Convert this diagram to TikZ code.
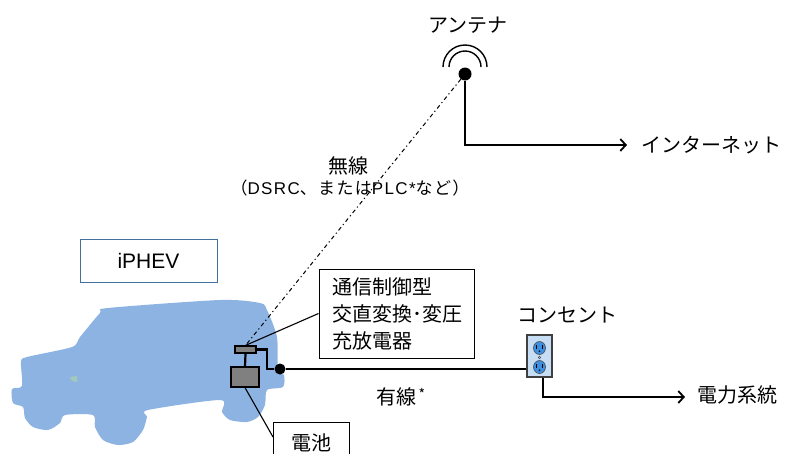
\documentclass[tikz,border=0pt]{standalone}
\usepackage{fontspec}
\setmainfont{Liberation Sans}
\newfontfamily\jp{Noto Sans CJK JP}
\usetikzlibrary{arrows.meta}

\definecolor{carblue}{HTML}{8DB3E2}
\definecolor{carspot}{HTML}{A3C9BC}
\definecolor{framblue}{HTML}{41719C}
\definecolor{unitgray}{HTML}{808080}
\definecolor{outletface}{HTML}{C6DDF3}
\definecolor{socketblue}{HTML}{3F8FE0}

\tikzset{
  wire/.style={line width=2.2pt},
  leader/.style={line width=1.1pt},
  feed/.style={line width=1.8pt, -{Straight Barb[length=5.5pt,width=12pt,line width=1.8pt]}},
  radio/.style={line width=1pt, dash pattern=on 4pt off 3pt on 1.2pt off 3pt},
  jptext/.style={font=\jp\fontsize{20}{27}\selectfont, inner sep=0pt},
  unitbox/.style={draw, line width=1.2pt, fill=unitgray, inner sep=0pt},
  labelbox/.style={draw, line width=1pt, fill=white},
}

\begin{document}
\begin{tikzpicture}[x=1pt, y=-1pt]
\useasboundingbox (0,0) rectangle (789,453);

% vehicle silhouette
\fill[carblue] plot[smooth cycle, tension=0.45] coordinates {
  (12,389) (22,386) (21,362) (27,357) (72,347) (80,337) (100,313) (108,308)
  (220,300) (260,303) (267,310) (277,337) (278,370) (284,375) (283,387)
  (267,390) (265,405) (258,417) (247,422) (230,420) (222,412) (220,400)
  (148,410) (147,417) (143,430) (133,442) (118,445) (103,440) (95,427)
  (93,415) (65,415) (60,423) (48,430) (33,427) (25,418) (23,407) (13,403)};
\fill[carspot] (70,377) -- (77,376) -- (77,382) -- (72,381) -- cycle;

% vehicle label
\node[draw=framblue, line width=1pt, fill=white, minimum width=137pt, minimum height=43pt,
      inner sep=0pt, font=\fontsize{21}{25}\selectfont] (veh) at (148.5,260.5) {iPHEV};

% antenna
\node[circle, fill=black, inner sep=0pt, minimum size=13pt] (ant) at (465,74) {};
\draw[line width=1.4pt] (481,67) arc[start angle=0, end angle=-180, radius=16];
\draw[line width=1.4pt] (487,67) arc[start angle=0, end angle=-180, radius=22];
\node[jptext] (antlbl) at (468,25) {アンテナ};
\coordinate (netbend) at (465,145);
\node[jptext, anchor=west] (net) at (641,145) {インターネット};
\draw[feed] (ant.south) -- (netbend) -- (net.west -| 627,0);

% on-board units
\node[unitbox, minimum width=21pt, minimum height=7pt] (chg) at (245.5,349.5) {};
\node[unitbox, minimum width=28pt, minimum height=20pt] (bat) at (245,377) {};
\node[circle, fill=black, inner sep=0pt, minimum size=11pt] (jn) at (280,369) {};
\draw[wire] (chg.south) -- (bat.north);
\draw[wire] (chg.east) -- ++(10,0) |- (jn);

% wireless link
\draw[radio] (ant) -- (chg.north);
\node[jptext] (wl) at (348,166) {無線};
\node[font=\fontsize{17}{20}\selectfont\addfontfeature{LetterSpace=8}, inner sep=0pt] (wlsub) at (350,188)
  {{\jp\addfontfeature{LetterSpace=8}（}DSRC{\jp\addfontfeature{LetterSpace=8}、または}PLC*{\jp\addfontfeature{LetterSpace=8}など）}};

% charger callout
\node[labelbox, jptext, inner xsep=13pt, inner ysep=0pt, text width=129pt, minimum height=89pt,
      align=left] (cbox) at (396.5,313.5) {通信制御型\\交直変換･変圧\\充放電器};
\draw[leader] (cbox.west) -- (chg.north);

% battery callout
\draw[line width=1pt, fill=white] (273,460) |- (349,422) -- (349,460);
\node[jptext] (batlbl) at (311,443) {電池};
\coordinate (batcall) at (273,437);
\draw[leader] (bat.south) -- (batcall);

% wall outlet
\node[draw=black!75, line width=1.3pt, fill=outletface, minimum width=25pt, minimum height=42pt,
      inner sep=0pt] (outlet) at (539.5,356) {};
\foreach \sy in {348,367} {
  \fill[socketblue, draw=black!70, line width=0.6pt] (539.5,\sy) ellipse[x radius=6pt, y radius=6.5pt];
  \fill[black] (536,\sy-3) rectangle (537.2,\sy+1);
  \fill[black] (541.8,\sy-3) rectangle (543,\sy+1);
  \fill[black] (539.5,\sy+3.2) circle[radius=0.9pt];
}
\draw[black!70, line width=0.5pt] (539.5,357.5) circle[radius=1.2pt];
\node[jptext] (outlbl) at (567,315) {コンセント};
\draw[wire] (jn) -- (outlet.west |- jn);
\node[jptext] (wired) at (401,397) {有線\hspace{2pt}\raisebox{5pt}{\fontsize{14}{14}\selectfont *}};

% grid connection
\coordinate (gridbend) at (543,397);
\node[jptext, anchor=west] (grid) at (697,395) {電力系統};
\draw[feed] (outlet.south -| gridbend) -- (gridbend) -- (685,397);
\end{tikzpicture}
\end{document}
